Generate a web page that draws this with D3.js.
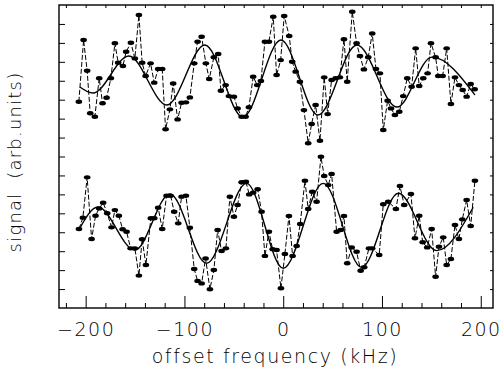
<!DOCTYPE html>
<html><head><meta charset="utf-8">
<script src="https://cdn.jsdelivr.net/npm/d3@7"></script>
<style>
html,body{margin:0;padding:0;background:#fff;}
svg{display:block;}
text{font-family:"DejaVu Sans",sans-serif;font-weight:200;fill:#000;}
</style></head><body>
<svg id="chart" width="504" height="375"></svg>
<script>
// measured points: [offset frequency (kHz), signal (arb. units)]
const upperData = [[-206.9,10.89],[-202.1,14.15],[-198.5,12.53],[-195.4,10.28],[-190.7,10.10],[-186.3,12.13],[-182.9,10.81],[-178.8,11.10],[-174.5,12.13],[-170.4,13.98],[-167.1,12.95],[-162.3,12.78],[-159.0,13.53],[-154.2,14.01],[-150.2,13.18],[-146.1,15.47],[-142.8,12.95],[-139.3,12.25],[-134.3,12.92],[-130.6,11.90],[-126.6,12.62],[-122.5,12.62],[-119.1,9.44],[-114.7,10.49],[-111.4,11.86],[-106.9,9.96],[-102.9,10.84],[-98.5,10.86],[-94.5,11.12],[-90.1,12.92],[-86.7,14.06],[-82.6,14.32],[-78.3,12.92],[-74.9,12.09],[-70.2,13.24],[-65.8,13.41],[-63.1,11.47],[-58.3,11.77],[-55.0,11.19],[-49.9,11.16],[-46.2,10.54],[-42.1,10.10],[-38.1,10.10],[-34.7,10.60],[-30.4,12.21],[-26.3,11.77],[-22.6,11.99],[-18.5,14.06],[-14.5,14.06],[-10.1,15.38],[-6.7,12.30],[-2.6,13.09],[1.0,15.42],[6.1,14.36],[9.1,13.00],[12.6,12.48],[16.9,11.95],[21.0,10.45],[25.3,8.70],[28.8,9.72],[32.8,10.72],[37.2,8.83],[41.5,12.18],[45.0,10.24],[49.0,12.04],[53.1,12.13],[57.4,12.18],[61.5,14.19],[64.8,11.95],[69.9,15.64],[74.3,13.98],[77.7,13.31],[81.7,12.60],[86.1,13.24],[90.1,14.50],[93.9,12.62],[97.9,12.39],[101.3,9.40],[105.7,10.95],[109.1,10.54],[113.1,10.19],[117.5,10.36],[121.5,11.19],[125.6,12.13],[130.0,11.68],[134.1,13.71],[137.7,11.72],[141.8,12.13],[146.2,12.39],[149.6,13.98],[154.3,13.24],[157.0,12.25],[161.4,12.25],[165.5,13.71],[169.8,10.77],[173.9,12.18],[177.9,11.77],[181.7,11.51],[185.7,11.16],[189.8,11.83],[193.8,11.55]];
const lowerData = [[-206.8,4.17],[-202.8,4.77],[-198.5,6.90],[-194.0,3.64],[-190.0,4.87],[-186.3,5.26],[-182.3,5.56],[-178.2,5.00],[-173.8,4.26],[-170.4,5.17],[-166.4,4.87],[-162.6,4.16],[-158.6,4.03],[-154.5,3.15],[-150.2,3.15],[-146.1,1.71],[-142.8,3.63],[-139.0,2.27],[-134.0,4.74],[-130.6,4.74],[-126.6,5.30],[-122.5,4.17],[-118.1,5.93],[-114.0,5.93],[-110.4,5.08],[-106.3,4.47],[-102.9,5.88],[-98.5,5.93],[-94.5,4.24],[-90.1,2.06],[-86.7,1.43],[-82.6,1.30],[-78.6,2.62],[-74.2,0.99],[-70.2,2.01],[-66.4,4.12],[-62.4,3.01],[-58.0,3.15],[-54.0,5.88],[-49.9,4.82],[-46.2,5.44],[-42.1,6.64],[-37.8,6.67],[-34.4,6.00],[-30.4,6.09],[-25.9,6.27],[-21.9,5.08],[-18.5,2.75],[-14.5,4.03],[-10.7,3.10],[-6.7,3.06],[-2.3,1.04],[1.7,2.85],[5.8,4.86],[9.5,2.75],[13.6,3.27],[17.2,4.44],[22.0,6.72],[25.3,5.23],[29.4,6.14],[33.8,5.61],[38.2,7.99],[41.5,6.97],[45.6,6.49],[49.0,7.08],[54.1,4.03],[58.1,4.12],[61.5,4.86],[64.8,2.36],[69.3,3.20],[74.3,2.97],[78.4,1.97],[82.0,2.15],[86.8,3.15],[90.1,3.15],[97.2,2.80],[101.3,5.48],[106.3,5.61],[114.1,5.23],[118.2,6.44],[122.5,5.44],[129.3,6.02],[133.4,3.68],[137.7,4.87],[141.2,3.47],[145.8,3.20],[150.3,4.17],[154.3,1.65],[157.7,3.24],[162.0,3.73],[165.5,2.27],[169.8,2.59],[173.9,4.38],[177.9,3.64],[181.3,4.68],[185.7,5.70],[189.8,4.33],[194.1,6.72]];
// fit curves read at their extrema
const upperFit = [[-205.9,11.67],[-192.7,11.35],[-156.3,13.31],[-117.8,10.72],[-79.3,13.89],[-40.8,10.08],[-2.3,14.15],[35.1,10.19],[74.6,13.89],[115.1,10.61],[150.6,13.25],[194.1,11.25]];
const lowerFit = [[-205.9,4.22],[-187.7,5.33],[-150.2,3.06],[-114.7,6.02],[-77.6,2.36],[-37.1,6.58],[0,2.10],[40.5,6.58],[79.4,2.15],[116.5,6.06],[155.3,3.03],[192.4,5.32]];
const xMajorTicks = [-200,-100,0,100,200];
const xMinorTicks = [-220,-180,-160,-140,-120,-80,-60,-40,-20,20,40,60,80,120,140,160,180];
const yTicks = [1,2,3,4,5,6,7,8,9,10,11,12,13,14,15];
const xTitle = "offset frequency (kHz)";
const yTitle = "signal\u00A0\u00A0(arb.units)";

const svg = d3.select("#chart");
const L=59, R=493, T=5, B=308;
const x = d3.scaleLinear().domain([-227,212.4]).range([L,R]);
const y = d3.scaleLinear().domain([0,16]).range([B,T]);

function ticks(axis, tr){
  const g = svg.append("g").attr("transform",tr).call(axis);
  g.select(".domain").remove();
  g.selectAll("line").attr("stroke","#000").attr("stroke-width",1);
  return g;
}
ticks(d3.axisBottom(x).tickValues(xMajorTicks).tickSize(-12).tickFormat(""),`translate(0,${B})`);
ticks(d3.axisBottom(x).tickValues(xMinorTicks).tickSize(-5).tickFormat(""),`translate(0,${B})`);
ticks(d3.axisTop(x).tickValues(xMajorTicks.concat(xMinorTicks)).tickSize(-3).tickFormat(""),`translate(0,${T})`);
ticks(d3.axisLeft(y).tickValues(yTicks).tickSize(-6).tickFormat(""),`translate(${L},0)`);
ticks(d3.axisRight(y).tickValues(yTicks).tickSize(-3).tickFormat(""),`translate(${R},0)`);

// tick labels
const lab = svg.append("g").attr("transform",`translate(0,${B})`)
  .call(d3.axisBottom(x).tickValues(xMajorTicks).tickSize(0).tickFormat(d=>d<0?"\u2212"+Math.abs(d):String(d)));
lab.select(".domain").remove();
lab.selectAll("text").attr("y",28).attr("dy",0)
  .style("font-family","DejaVu Sans").style("font-weight","200")
  .style("font-size","19px").style("letter-spacing","1.5px").attr("fill","#000");

// frame
svg.append("rect").attr("x",L).attr("y",T).attr("width",R-L).attr("height",B-T)
  .attr("fill","none").attr("stroke","#000").attr("stroke-width",1.4);

const line = d3.line().x(d=>x(d[0])).y(d=>y(d[1]));
const fitLine = d3.line().x(d=>x(d[0])).y(d=>y(d[1])).curve(d3.curveMonotoneX);

[upperData, lowerData].forEach(data=>{
  svg.append("path").datum(data).attr("d",line).attr("fill","none")
    .attr("stroke","#000").attr("stroke-width",1).attr("stroke-dasharray","5,2");
});
[upperFit, lowerFit].forEach(data=>{
  svg.append("path").datum(data).attr("d",fitLine).attr("fill","none")
    .attr("stroke","#000").attr("stroke-width",1.4);
});
[upperData, lowerData].forEach(data=>{
  svg.append("g").selectAll("ellipse").data(data).join("ellipse")
    .attr("cx",d=>x(d[0])).attr("cy",d=>y(d[1])).attr("rx",3.3).attr("ry",2.2).attr("fill","#000");
});

svg.append("text").attr("x",275).attr("y",363).attr("text-anchor","middle")
  .style("font-size","19px").style("letter-spacing","1.6px").text(xTitle);
svg.append("text").attr("transform","translate(21,162) rotate(-90)").attr("text-anchor","middle")
  .style("font-size","18px").style("letter-spacing","1.2px").text(yTitle);
</script>
</body></html>
